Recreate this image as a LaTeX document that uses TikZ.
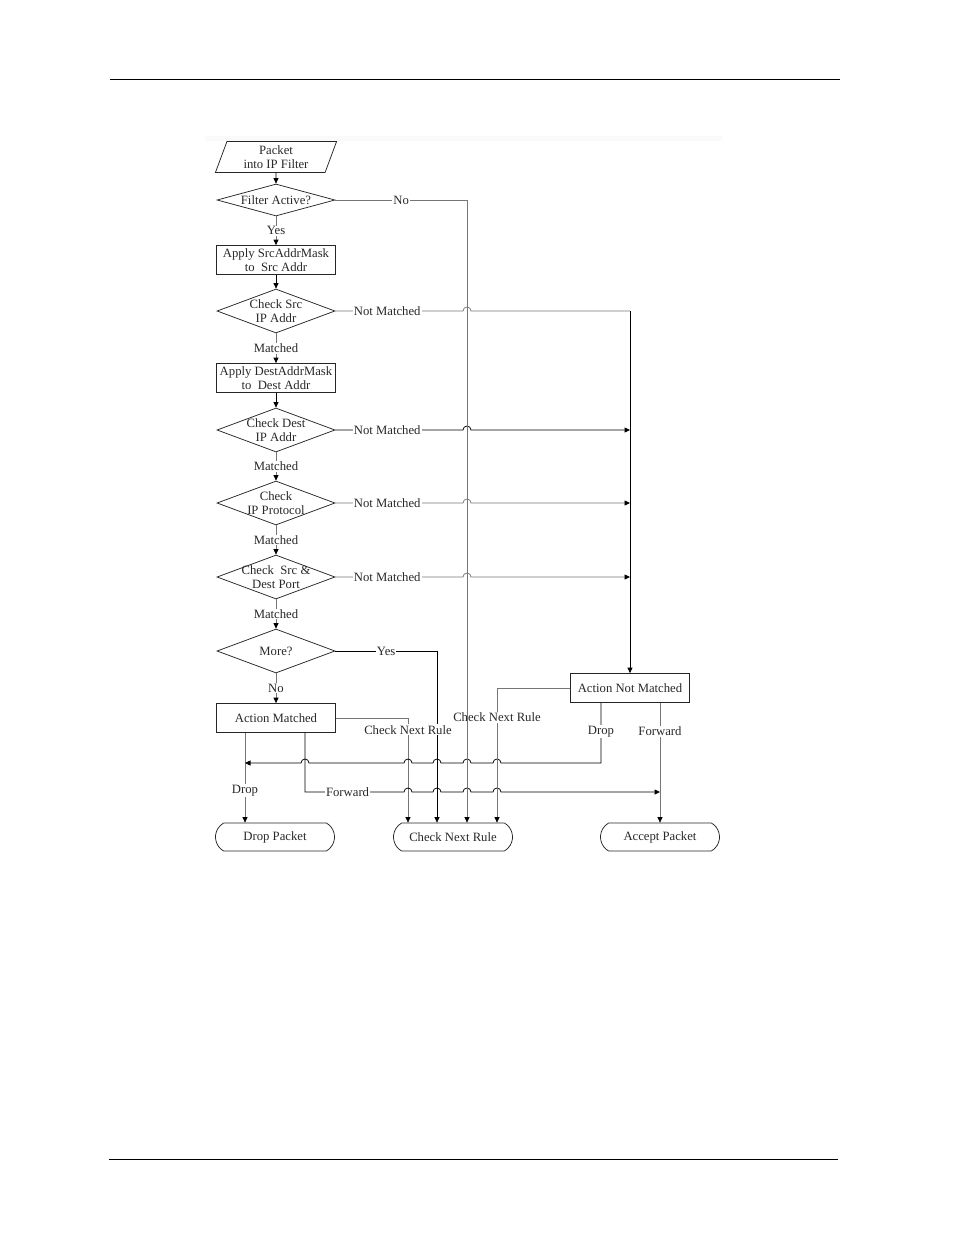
\documentclass[tikz,border=0pt]{standalone}
\usepackage{fontspec}
\setmainfont{Liberation Serif}
\usetikzlibrary{shapes.geometric,shapes.misc,arrows.meta}
\definecolor{lg}{RGB}{118,118,118}
\definecolor{tx}{RGB}{40,40,40}
\begin{document}
\begin{tikzpicture}[x=1pt,y=1pt,font=\fontsize{12.7}{14.5}\selectfont,
  shp/.style={draw=black!85, line width=0.75pt, inner sep=0pt, align=center, text=tx},
  proc/.style={shp, rectangle, minimum width=119pt, minimum height=29pt},
  dec/.style={shp, diamond, minimum width=118pt, minimum height=44pt},
  term/.style={shp, rounded rectangle, rounded rectangle arc length=120, minimum width=119pt, minimum height=28pt},
  io/.style={shp, trapezium, trapezium left angle=72, trapezium right angle=108, trapezium stretches=true, minimum width=122pt, minimum height=31pt},
  dtxt/.style={align=center, text=tx, inner sep=0pt},
  lab/.style={fill=white, inner sep=1pt, text=tx},
  ln/.style={draw=lg, line width=0.75pt},
  lnb/.style={draw=black, line width=0.75pt},
  arr/.style={-{Triangle[length=5.5pt,width=5pt,color=black]}}]
\useasboundingbox (0,0) rectangle (954,-1235);
\fill[black!2] (205,-136) rectangle (722,-141);
\draw[line width=0.9pt] (110,-79) -- (840,-79);
\draw[line width=0.9pt] (109,-1159) -- (838,-1159);

% nodes
\node[io] (pkt) at (276,-157) {Packet\\into IP Filter};
\node[dec, minimum height=32pt, label={[dtxt]center:Filter Active?}] (fa) at (276,-200) {};
\node[proc] (asm) at (276,-260) {Apply SrcAddrMask\\to~ Src Addr};
\node[dec, label={[dtxt]center:{Check Src\\IP Addr}}] (csrc) at (276,-311) {};
\node[proc] (adm) at (276,-378) {Apply DestAddrMask\\to~ Dest Addr};
\node[dec, label={[dtxt]center:{Check Dest\\IP Addr}}] (cdst) at (276,-430) {};
\node[dec, label={[dtxt]center:{Check\\IP Protocol}}] (cpro) at (276,-503) {};
\node[dec, label={[dtxt]center:{Check~ Src \&\\Dest Port}}] (cprt) at (276,-577) {};
\node[dec, label={[dtxt]center:More?}] (more) at (276,-651) {};
\node[proc] (am) at (276,-718) {Action Matched};
\node[proc] (anm) at (630,-688) {Action Not Matched};
\node[term] (dp) at (275,-837) {Drop Packet};
\node[term] (cnr) at (453,-837) {Check Next Rule};
\node[term] (ap) at (660,-837) {Accept Packet};

\coordinate (nm1) at (630,-311);

% main flow
\draw[lnb,arr] (pkt.south) -- (fa.north);
\draw[ln,arr] (fa.south) -- node[lab]{Yes} (asm.north);
\draw[lnb,arr] (asm.south) -- (csrc.north);
\draw[ln,arr] (csrc.south) -- node[lab]{Matched} (adm.north);
\draw[lnb,arr] (adm.south) -- (cdst.north);
\draw[ln,arr] (cdst.south) -- node[lab]{Matched} (cpro.north);
\draw[ln,arr] (cpro.south) -- node[lab]{Matched} (cprt.north);
\draw[ln,arr] (cprt.south) -- node[lab]{Matched} (more.north);
\draw[ln,arr] (more.south) -- node[lab]{No} (am.north);

% not matched branches
\draw[ln] (csrc.east) -- node[lab,pos=0.406]{Not Matched} (463,-311) arc(180:0:4pt) -- (nm1);
\draw[lnb,arr] (nm1) -- (anm.north);
\draw[lnb,arr] (cdst.east) -- node[lab,pos=0.406]{Not Matched} (463,-430) arc(180:0:4pt) -- (630,-430);
\draw[ln,arr] (cpro.east) -- node[lab,pos=0.406]{Not Matched} (463,-503) arc(180:0:4pt) -- (630,-503);
\draw[ln,arr] (cprt.east) -- node[lab,pos=0.406]{Not Matched} (463,-577) arc(180:0:4pt) -- (630,-577);

% more? yes
\draw[lnb,arr] (more.east) -- node[lab]{Yes} (437,-651) -- (cnr.north -| 437,0);

% action matched
\draw[ln,arr] (am.east) -- (408,-718) -- node[lab,pos=0.114]{Check Next Rule} (cnr.north -| 408,0);
\draw[ln,arr] (am.south -| 245,0) -- node[lab,pos=0.64]{Drop} (dp.north -| 245,0);
\draw[lnb,arr] (am.south -| 305,0) -- (305,-792) -- node[lab,pos=0.43]{Forward} (404,-792)
  arc(180:0:4pt) -- (433,-792) arc(180:0:4pt) -- (463,-792) arc(180:0:4pt) -- (493,-792) arc(180:0:4pt) -- (660,-792);

% action not matched
\draw[lnb,arr] (anm.south -| 601,0) -- node[lab,pos=0.48]{Drop} (601,-763) -- (501,-763)
  arc(0:180:4pt) -- (471,-763) arc(0:180:4pt) -- (441,-763) arc(0:180:4pt) -- (412,-763)
  arc(0:180:4pt) -- (309,-763) arc(0:180:4pt) -- (245,-763);
\draw[ln,arr] (anm.south -| 660,0) -- node[lab,pos=0.24]{Forward} (ap.north -| 660,0);
\draw[ln,arr] (anm.west) -- (497,-688) -- node[lab,pos=0.22]{Check Next Rule} (cnr.north -| 497,0);

% filter inactive
\draw[ln,arr] (fa.east) -- node[lab]{No} (467,-200) -- (cnr.north -| 467,0);
\end{tikzpicture}
\end{document}
